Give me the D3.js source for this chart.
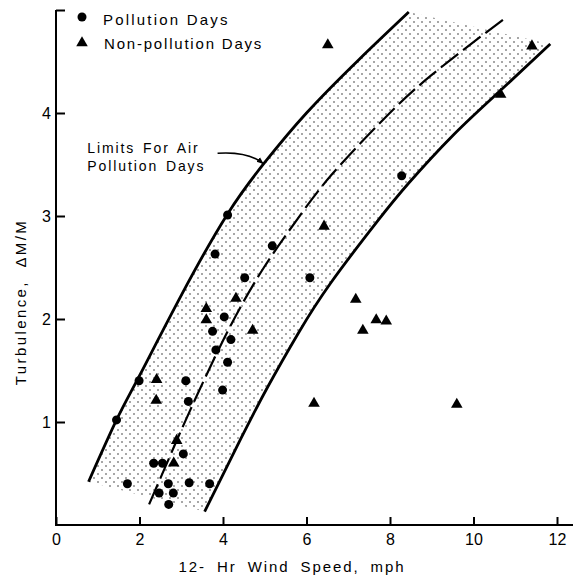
<!DOCTYPE html>
<html>
<head>
<meta charset="utf-8">
<script src="https://cdn.jsdelivr.net/npm/d3@7"></script>
<style>
  body { margin: 0; background: #fff; }
  text { font-family: "Liberation Sans", Arial, sans-serif; fill: #000; }
</style>
</head>
<body>
<svg width="573" height="579"></svg>
<script>
// values (wind speed mph, turbulence dM/M)
var pollutionDays = [
  [1.45, 1.02], [1.71, 0.40], [1.99, 1.40], [2.34, 0.60], [2.47, 0.31],
  [2.55, 0.60], [2.69, 0.40], [2.70, 0.20], [2.81, 0.31], [3.05, 0.69],
  [3.11, 1.40], [3.17, 1.20], [3.19, 0.41], [3.68, 0.40], [3.75, 1.88],
  [3.81, 2.63], [3.83, 1.70], [3.99, 1.31], [4.03, 2.02], [4.11, 1.58],
  [4.11, 3.01], [4.19, 1.80], [4.52, 2.40], [5.18, 2.71], [6.08, 2.40],
  [8.28, 3.39]
];
var nonPollutionDays = [
  [2.41, 1.41], [2.40, 1.21], [2.82, 0.60], [2.89, 0.82], [3.60, 2.10],
  [3.60, 1.99], [4.31, 2.20], [4.71, 1.89], [6.42, 2.90], [6.18, 1.18],
  [6.51, 4.66], [7.18, 2.19], [7.35, 1.89], [7.67, 1.99], [7.91, 1.98],
  [9.60, 1.17], [10.65, 4.18], [11.40, 4.65]
];
// limits of the band for air pollution days
var upperLimit = [
  [0.78, 0.42], [1.45, 1.02], [2.0, 1.45], [3.0, 2.23], [4.11, 3.02],
  [5.0, 3.52], [6.0, 4.00], [7.26, 4.52], [8.45, 4.98]
];
var lowerLimit = [
  [3.56, 0.13], [4.43, 0.84], [5.07, 1.34], [5.8, 1.86], [6.58, 2.35],
  [7.7, 2.95], [8.45, 3.32], [9.5, 3.78], [10.65, 4.22], [11.84, 4.67]
];
var midLine = [
  [2.23, 0.20], [3.0, 0.92], [3.55, 1.41], [4.2, 1.95], [4.98, 2.50],
  [5.8, 2.98], [6.6, 3.40], [7.8, 3.92], [8.97, 4.36], [10.72, 4.91]
];
var xTicks = [0, 2, 4, 6, 8, 10, 12];
var yTicks = [1, 2, 3, 4, 5];

var svg = d3.select("svg");

var x = d3.scaleLinear().domain([0, 12]).range([56, 557]);
var y = d3.scaleLinear().domain([0, 5]).range([525, 10]);

var defs = svg.append("defs");
var pat = defs.append("pattern")
    .attr("id", "dots")
    .attr("patternUnits", "userSpaceOnUse")
    .attr("width", 8)
    .attr("height", 8);
pat.append("circle").attr("cx", 2).attr("cy", 2).attr("r", 0.75).attr("fill", "#222");
pat.append("circle").attr("cx", 6).attr("cy", 6).attr("r", 0.75).attr("fill", "#222");

defs.append("marker")
    .attr("id", "arrow")
    .attr("viewBox", "0 0 10 10")
    .attr("refX", 9).attr("refY", 5)
    .attr("markerWidth", 7).attr("markerHeight", 7)
    .attr("markerUnits", "userSpaceOnUse")
    .attr("orient", "auto")
  .append("path")
    .attr("d", "M0,1 L10,5 L0,9 Z")
    .attr("fill", "#000");

var line = d3.line()
    .x(function(d) { return x(d[0]); })
    .y(function(d) { return y(d[1]); })
    .curve(d3.curveNatural);

// stippled band between the two limits
var bandPath = line(upperLimit) + "L" + line(lowerLimit.slice().reverse()).slice(1) + "Z";
svg.append("path")
    .attr("d", bandPath)
    .attr("fill", "url(#dots)")
    .attr("stroke", "none");

svg.append("path")
    .attr("d", line(upperLimit))
    .attr("fill", "none").attr("stroke", "#000").attr("stroke-width", 2.8);
svg.append("path")
    .attr("d", line(lowerLimit))
    .attr("fill", "none").attr("stroke", "#000").attr("stroke-width", 2.8);
svg.append("path")
    .attr("d", line(midLine))
    .attr("fill", "none").attr("stroke", "#000").attr("stroke-width", 2.2)
    .attr("stroke-dasharray", "22,6");

// axes, ticks point inward
var xAxis = d3.axisBottom(x)
    .tickValues(xTicks)
    .tickSizeInner(-8).tickSizeOuter(0)
    .tickPadding(9)
    .tickFormat(d3.format("d"));
var gx = svg.append("g")
    .attr("transform", "translate(0," + y(0) + ")")
    .call(xAxis);
gx.select(".domain").remove();
gx.append("line")
    .attr("x1", x(0) - 1).attr("x2", 573)
    .attr("stroke", "#000").attr("stroke-width", 2);

var yAxis = d3.axisLeft(y)
    .tickValues(yTicks)
    .tickSizeInner(-9).tickSizeOuter(0)
    .tickPadding(5)
    .tickFormat(function(d) { return d === 5 ? "" : d; });
var gy = svg.append("g")
    .attr("transform", "translate(" + x(0) + ",0)")
    .call(yAxis);
gy.select(".domain").remove();
gy.append("line")
    .attr("y1", y(0) + 1).attr("y2", y(5))
    .attr("stroke", "#000").attr("stroke-width", 2);

svg.selectAll(".tick line").attr("stroke", "#000").attr("stroke-width", 2);
svg.selectAll(".tick text")
    .style("font-size", "16px")
    .style("font-family", "Liberation Sans, Arial, sans-serif");

// points
svg.append("g").selectAll("circle")
    .data(pollutionDays)
    .enter().append("circle")
    .attr("cx", function(d) { return x(d[0]); })
    .attr("cy", function(d) { return y(d[1]); })
    .attr("r", 4.5)
    .attr("fill", "#000");

var tri = d3.symbol().type(d3.symbolTriangle).size(58);
svg.append("g").selectAll("path")
    .data(nonPollutionDays)
    .enter().append("path")
    .attr("d", tri)
    .attr("transform", function(d) { return "translate(" + x(d[0]) + "," + y(d[1]) + ")"; })
    .attr("fill", "#000");

// legend
var legend = svg.append("g").attr("transform", "translate(82,0)");
legend.append("circle").attr("cx", 0).attr("cy", 17).attr("r", 4.5).attr("fill", "#000");
legend.append("path").attr("d", tri).attr("transform", "translate(0,43)").attr("fill", "#000");
legend.append("text").attr("x", 21).attr("y", 25)
    .style("font-size", "15px").style("letter-spacing", "2.2px")
    .text("Pollution Days");
legend.append("text").attr("x", 22).attr("y", 49)
    .style("font-size", "15px").style("letter-spacing", "1.8px")
    .text("Non-pollution Days");

// annotation
svg.append("text")
    .attr("x", x(0.75)).attr("y", y(3.61))
    .style("font-size", "14px").style("letter-spacing", "1.9px").style("word-spacing", "2px")
    .text("Limits For Air");
svg.append("text")
    .attr("x", x(0.75)).attr("y", y(3.44))
    .style("font-size", "14px").style("letter-spacing", "1.9px").style("word-spacing", "2px")
    .text("Pollution Days");

var ap = d3.path();
ap.moveTo(x(3.87), y(3.61));
ap.quadraticCurveTo(x(4.6), y(3.63), x(4.96), y(3.51));
svg.append("path")
    .attr("d", ap.toString())
    .attr("fill", "none").attr("stroke", "#000").attr("stroke-width", 1.5)
    .attr("marker-end", "url(#arrow)");

// axis titles
svg.append("text")
    .attr("x", 292).attr("y", 572)
    .attr("text-anchor", "middle")
    .style("font-size", "15px").style("letter-spacing", "1.9px").style("word-spacing", "5px")
    .text("12- Hr Wind Speed, mph");

svg.append("text")
    .attr("transform", "translate(26,302) rotate(-90)")
    .attr("text-anchor", "middle")
    .style("font-size", "15px").style("letter-spacing", "2.4px").style("word-spacing", "6px")
    .text("Turbulence, \u0394M/M");
</script>
</body>
</html>
